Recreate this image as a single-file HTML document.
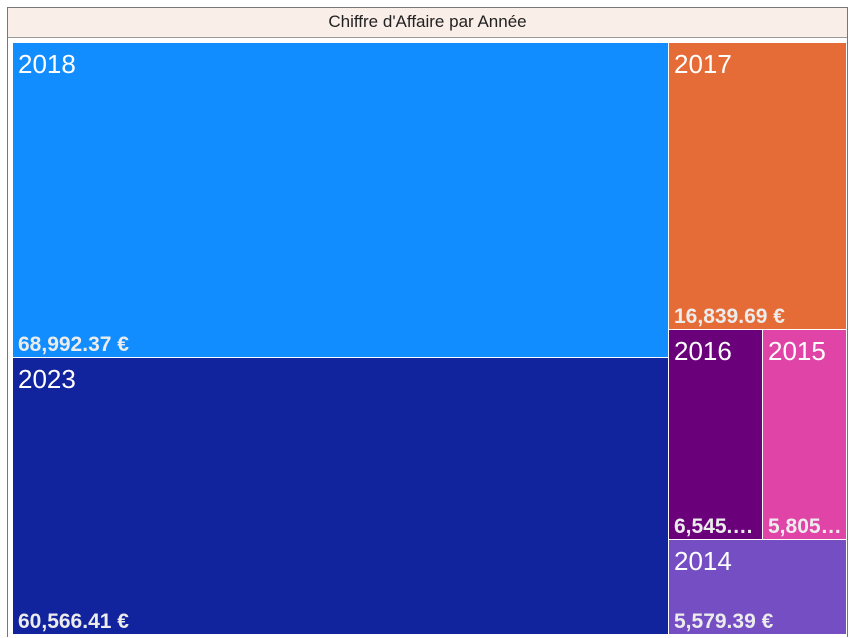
<!DOCTYPE html>
<html><head><meta charset="utf-8">
<style>
html,body{margin:0;padding:0;background:#fff;width:852px;height:638px;overflow:hidden;font-family:"Liberation Sans","DejaVu Sans",sans-serif;}
#frame{position:absolute;left:7px;top:7px;width:839px;height:629px;border:1px solid #777;border-bottom:none;}
#title{position:absolute;left:8px;top:8px;width:839px;height:29px;background:#FAEEE8;border-bottom:1px solid #999;text-align:center;font-size:17px;line-height:27px;color:#222;}
#tm{position:absolute;left:12px;top:42px;width:834px;height:592px;}
.cell{position:absolute;box-sizing:border-box;overflow:hidden;color:#fff;}
.yr{position:absolute;left:5px;top:6px;font-size:26px;white-space:nowrap;}
.val{position:absolute;left:5px;right:2px;bottom:0px;font-size:21px;font-weight:bold;color:#ECECEC;white-space:nowrap;overflow:hidden;text-overflow:ellipsis;}
</style></head>
<body>
<div id="frame"></div>
<div id="title">Chiffre d'Affaire par Année</div>
<div id="tm"></div>
<script>
const years = ["2018","2023","2017","2016","2015","2014"];
const values = [68992.37, 60566.41, 16839.69, 6545.52, 5805.10, 5579.39];
const labels = ["68,992.37 €","60,566.41 €","16,839.69 €","6,545.52 €","5,805.10 €","5,579.39 €"];
const colors = ["#118DFF","#12239E","#E66C37","#6B007B","#E044A7","#744EC2"];

const W=834,H=592;
const tm=document.getElementById('tm');
const total=values.reduce((a,b)=>a+b,0);
const col1=values[0]+values[1];
const col2=total-col1;
const w1=W*col1/total-2;
const rects=[];
const h0=H*values[0]/col1;
rects.push([0,0,w1,h0]);
rects.push([0,h0,w1,H-h0]);
const x2=w1, w2=W-w1;
const hA=H*values[2]/col2;
rects.push([x2,0,w2,hA]);
const rowSum=values[3]+values[4];
const hB=H*rowSum/col2;
const wa=w2*values[3]/rowSum;
rects.push([x2,hA,wa,hB]);
rects.push([x2+wa,hA,w2-wa,hB]);
rects.push([x2,hA+hB,w2,H-hA-hB]);

rects.forEach((r,i)=>{
  const d=document.createElement('div');
  d.className='cell';
  
  
  d.style.left=(Math.round(r[0])+1)+'px';
  d.style.top=(Math.round(r[1])+1)+'px';
  d.style.width=(Math.round(r[0]+r[2])-Math.round(r[0])-1)+'px';
  d.style.height=(Math.round(r[1]+r[3])-Math.round(r[1])-1)+'px';
  d.style.background=colors[i];
  const y=document.createElement('div');
  y.className='yr';
  
  
  y.textContent=years[i];
  const v=document.createElement('div');
  v.className='val';
  
  
  v.textContent=labels[i];
  d.appendChild(y);d.appendChild(v);
  tm.appendChild(d);
});
</script>
</body></html>
